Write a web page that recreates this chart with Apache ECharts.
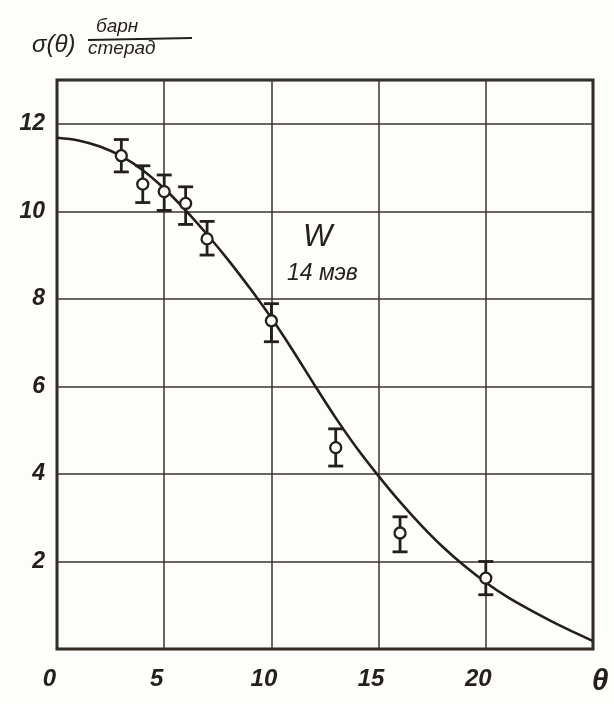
<!DOCTYPE html>
<html>
<head>
<meta charset="utf-8">
<script src="https://cdn.jsdelivr.net/npm/echarts@6/dist/echarts.min.js"></script>
<style>
html,body{margin:0;padding:0;background:#fdfdfb;}
#chart{width:614px;height:704px;}
</style>
</head>
<body>
<div id="chart"></div>
<script>
// Measured points (θ in degrees, σ(θ) in barn/sr)
const pointTheta = [3, 4, 5, 6, 7, 10, 13, 16, 20];
const pointSigma = [11.27, 10.62, 10.45, 10.18, 9.37, 7.5, 4.6, 2.65, 1.62];
const errLow    = [10.9, 10.2, 10.02, 9.7, 9.0, 7.02, 4.18, 2.22, 1.24];
const errHigh   = [11.64, 11.04, 10.83, 10.56, 9.77, 7.89, 5.03, 3.02, 2.0];

// Theoretical curve
const curveTheta = [0, 1, 2, 3, 4, 5, 6, 7, 8, 9, 10, 11, 12, 13, 14, 15, 16, 17, 18, 19, 20, 21, 22, 23, 24, 25];
const curveSigma = [11.68, 11.62, 11.48, 11.26, 10.94, 10.52, 10.02, 9.47, 8.88, 8.24, 7.56, 6.82, 6.04, 5.28, 4.58, 3.95, 3.36, 2.82, 2.33, 1.9, 1.52, 1.19, 0.91, 0.65, 0.41, 0.18];

const xTicks = [0, 5, 10, 15, 20];
const yTicks = [2, 4, 6, 8, 10, 12];

const ink = '#241f1b';
const font = 'Liberation Sans';

const chart = echarts.init(document.getElementById('chart'));
chart.setOption({
  backgroundColor: '#fdfdfb',
  animation: false,
  grid: {left: 57, right: 21, top: 80, bottom: 55, show: true, borderColor: ink, borderWidth: 3, backgroundColor: 'transparent'},
  xAxis: {
    type: 'value', min: 0, max: 25, interval: 5,
    axisLine: {show: false}, axisTick: {show: false},
    splitLine: {show: true, lineStyle: {color: '#3a332d', width: 1.5}},
    axisLabel: {
      margin: 18, color: ink, fontFamily: font, fontStyle: 'italic', fontWeight: 'bold', fontSize: 23,
      formatter: v => v === 25 ? '{t|θ}' : (xTicks.indexOf(v) >= 0 ? '{n|' + v + '}' : ''),
      rich: {
        n: {fontSize: 24, fontFamily: font, fontStyle: 'italic', fontWeight: 'bold', color: ink, padding: [0, 15, 0, 0]},
        t: {fontSize: 30, fontFamily: font, fontStyle: 'italic', color: ink, padding: [0, 0, 0, 14]}
      }
    }
  },
  yAxis: {
    type: 'value', min: 0, max: 13, interval: 2,
    axisLine: {show: false}, axisTick: {show: false},
    splitLine: {show: true, lineStyle: {color: '#3a332d', width: 1.5}},
    axisLabel: {
      margin: 12, color: ink, fontFamily: font, fontStyle: 'italic', fontWeight: 'bold', fontSize: 23,
      formatter: v => yTicks.indexOf(v) >= 0 ? String(v) : ''
    }
  },
  graphic: [
    {type: 'text', left: 32, top: 33, style: {text: 'σ(θ)', font: 'italic 24px "Liberation Sans"', fill: ink}},
    {type: 'text', left: 96, top: 17, style: {text: 'барн', font: 'italic 19px "Liberation Sans"', fill: ink}},
    {type: 'line', shape: {x1: 88, y1: 40, x2: 192, y2: 38}, style: {stroke: ink, lineWidth: 2}},
    {type: 'text', left: 88, top: 39, style: {text: 'стерад', font: 'italic 19px "Liberation Sans"', fill: ink}},
    {type: 'text', left: 303, top: 222, style: {text: 'W', font: 'italic 31px "Liberation Sans"', fill: ink}},
    {type: 'text', left: 287, top: 262, style: {text: '14 мэв', font: 'italic 23px "Liberation Sans"', fill: ink}}
  ],
  series: [
    {
      type: 'line', data: curveTheta.map((t, i) => [t, curveSigma[i]]),
      smooth: 0.3, symbol: 'none', lineStyle: {color: ink, width: 2.6}, z: 2
    },
    {
      type: 'custom', z: 3,
      data: pointTheta.map((t, i) => [t, errLow[i], errHigh[i]]),
      renderItem: (params, api) => {
        const x = api.value(0);
        const top = api.coord([x, api.value(2)]);
        const bot = api.coord([x, api.value(1)]);
        const w = 7.5;
        const st = {stroke: ink, lineWidth: 2.8};
        return {type: 'group', children: [
          {type: 'line', shape: {x1: top[0], y1: top[1], x2: bot[0], y2: bot[1]}, style: st},
          {type: 'line', shape: {x1: top[0] - w, y1: top[1], x2: top[0] + w, y2: top[1]}, style: st},
          {type: 'line', shape: {x1: bot[0] - w, y1: bot[1], x2: bot[0] + w, y2: bot[1]}, style: st}
        ]};
      }
    },
    {
      type: 'scatter', z: 4, data: pointTheta.map((t, i) => [t, pointSigma[i]]),
      symbol: 'circle', symbolSize: 11,
      itemStyle: {color: '#fdfdfb', borderColor: ink, borderWidth: 2.3, opacity: 1}
    }
  ]
});
</script>
</body>
</html>
